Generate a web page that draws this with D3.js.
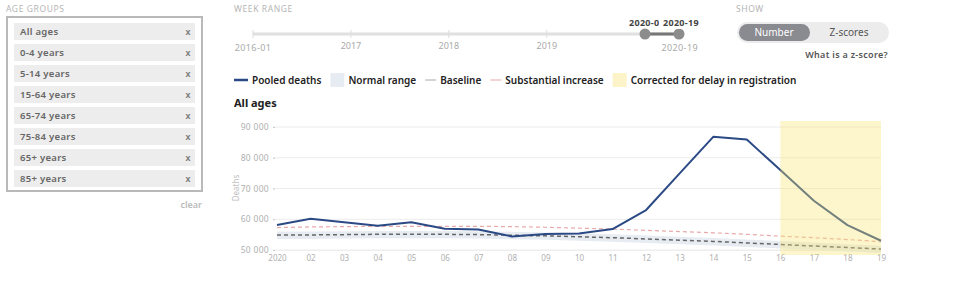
<!DOCTYPE html>
<html>
<head>
<meta charset="utf-8">
<script src="https://cdn.jsdelivr.net/npm/d3@7"></script>
<style>
  body { margin: 0; background: #fff; }
  svg { display: block; font-family: "Noto Sans", sans-serif; }
</style>
</head>
<body>
<svg id="chart" width="960" height="288"></svg>
<script>
'use strict';

// data
var ageGroups = ['All ages', '0-4 years', '5-14 years', '15-64 years', '65-74 years', '75-84 years', '65+ years', '85+ years'];
var weeks = [1, 2, 3, 4, 5, 6, 7, 8, 9, 10, 11, 12, 13, 14, 15, 16, 17, 18, 19];
var pooledDeaths = [58100, 60150, 59000, 57900, 59000, 56900, 56700, 54400, 55200, 55400, 56800, 63000, 74900, 86800, 85900, 76000, 66000, 58100, 53000];
var baseline = [54900, 54900, 55000, 55100, 55100, 55100, 55000, 54800, 54600, 54300, 54000, 53600, 53200, 52800, 52300, 51800, 51300, 50800, 50300];
var substantial = [57300, 57500, 57600, 57700, 57700, 57700, 57700, 57600, 57400, 57100, 56800, 56400, 56000, 55600, 55100, 54500, 54000, 53400, 52700];
var normalLow = [53600, 53600, 53700, 53800, 53800, 53800, 53700, 53500, 53300, 53000, 52700, 52300, 51900, 51500, 51000, 50500, 50000, 49500, 49000];
var normalHigh = [56000, 56000, 56100, 56200, 56200, 56200, 56100, 55900, 55700, 55400, 55100, 54700, 54300, 53900, 53400, 52900, 52400, 51900, 51400];
var correctedFrom = 16, correctedTo = 19;
var yTicks = [50000, 60000, 70000, 80000, 90000];
var sliderYears = ['2017', '2018', '2019'];
var legendItems = [
    {label: 'Pooled deaths', type: 'line', color: '#2b4a85', w: 2.5, len: 14},
    {label: 'Normal range', type: 'box', color: '#e7ecf2'},
    {label: 'Baseline', type: 'line', color: '#aaa', w: 1, len: 11},
    {label: 'Substantial increase', type: 'line', color: '#e9a9a9', w: 1, len: 11},
    {label: 'Corrected for delay in registration', type: 'box', color: '#fcf3c8'}
];

var svg = d3.select('#chart');

//* Left panel: age groups
svg.append('text').attr('x', 6).attr('y', 12)
    .attr('font-size', 8.5).attr('fill', '#b5b5b5').attr('letter-spacing', 0.6)
    .text('AGE GROUPS');
svg.append('rect').attr('x', 7).attr('y', 17).attr('width', 195).attr('height', 174)
    .attr('fill', '#fff').attr('stroke', '#b9b9b9').attr('stroke-width', 2);
var ag = svg.append('g').selectAll('g').data(ageGroups).enter().append('g')
    .attr('transform', function(d, i) { return 'translate(14,' + (23 + i * 21) + ')'; });
ag.append('rect').attr('width', 181).attr('height', 17).attr('fill', '#ededed');
ag.append('text').attr('x', 6).attr('y', 12)
    .attr('font-size', 9.5).attr('font-weight', 600).attr('fill', '#666').attr('letter-spacing', 0.3)
    .text(function(d) { return d; });
ag.append('text').attr('x', 174).attr('y', 12).attr('text-anchor', 'middle')
    .attr('font-size', 9).attr('font-weight', 600).attr('fill', '#777')
    .text('x');
svg.append('text').attr('x', 202).attr('y', 208).attr('text-anchor', 'end')
    .attr('font-size', 9).attr('font-weight', 600).attr('fill', '#bbb')
    .text('clear');

//* Week range slider
svg.append('text').attr('x', 234).attr('y', 12)
    .attr('font-size', 8.5).attr('fill', '#b5b5b5').attr('letter-spacing', 0.6)
    .text('WEEK RANGE');
var sx = d3.scaleLinear().domain([0, 4.35]).range([253, 679]);
svg.append('line').attr('x1', 253).attr('x2', 679).attr('y1', 34).attr('y2', 34)
    .attr('stroke', '#e0e0e0').attr('stroke-width', 3);
[0, 1, 2, 3].forEach(function(i) {
    svg.append('line').attr('x1', sx(i)).attr('x2', sx(i)).attr('y1', 30).attr('y2', 38)
        .attr('stroke', '#ddd').attr('stroke-width', 1);
});
svg.append('text').attr('x', 253).attr('y', 51).attr('text-anchor', 'middle')
    .attr('font-size', 9).attr('fill', '#aaa').attr('letter-spacing', 0.4).text('2016-01');
svg.selectAll('text.yr').data(sliderYears).enter().append('text')
    .attr('class', 'yr')
    .attr('x', function(d, i) { return sx(i + 1); }).attr('y', 49).attr('text-anchor', 'middle')
    .attr('font-size', 9).attr('fill', '#aaa').text(function(d) { return d; });
svg.append('text').attr('x', 698).attr('y', 51).attr('text-anchor', 'end')
    .attr('font-size', 9).attr('fill', '#aaa').attr('letter-spacing', 0.4).text('2020-19');
svg.append('line').attr('x1', 645).attr('x2', 679).attr('y1', 34).attr('y2', 34)
    .attr('stroke', '#777').attr('stroke-width', 3);
svg.append('circle').attr('cx', 645).attr('cy', 34).attr('r', 5.5).attr('fill', '#8c8c8c');
svg.append('circle').attr('cx', 679).attr('cy', 34).attr('r', 5.5).attr('fill', '#8c8c8c');
svg.append('text').attr('x', 629).attr('y', 26)
    .attr('font-size', 9).attr('font-weight', 700).attr('fill', '#444').attr('letter-spacing', 0.3)
    .text('2020-01');
svg.append('rect').attr('x', 659).attr('y', 16).attr('width', 42).attr('height', 13).attr('fill', '#fff');
svg.append('text').attr('x', 663).attr('y', 26)
    .attr('font-size', 9).attr('font-weight', 700).attr('fill', '#444').attr('letter-spacing', 0.3)
    .text('2020-19');

//* Show toggle
svg.append('text').attr('x', 736).attr('y', 12)
    .attr('font-size', 8.5).attr('fill', '#b5b5b5').attr('letter-spacing', 0.6)
    .text('SHOW');
svg.append('rect').attr('x', 737).attr('y', 22).attr('width', 152).attr('height', 21).attr('rx', 10.5)
    .attr('fill', '#ececec');
svg.append('rect').attr('x', 739).attr('y', 24).attr('width', 71).attr('height', 17).attr('rx', 8.5)
    .attr('fill', '#8a8a91');
svg.append('text').attr('x', 774).attr('y', 36).attr('text-anchor', 'middle')
    .attr('font-size', 10).attr('fill', '#fff').text('Number');
svg.append('text').attr('x', 849).attr('y', 36).attr('text-anchor', 'middle')
    .attr('font-size', 10).attr('fill', '#555').text('Z-scores');
svg.append('text').attr('x', 888).attr('y', 58).attr('text-anchor', 'end')
    .attr('font-size', 9).attr('font-weight', 600).attr('fill', '#555').attr('letter-spacing', 0.3)
    .text('What is a z-score?');

//* Legend
var lx = 234;
var legend = svg.append('g').attr('font-size', 10).attr('font-weight', 600).attr('fill', '#222');
legendItems.forEach(function(it) {
    var off = 18;
    if (it.type === 'line') {
        legend.append('line').attr('x1', lx).attr('x2', lx + it.len).attr('y1', 80).attr('y2', 80)
            .attr('stroke', it.color).attr('stroke-width', it.w);
        off = it.len + 4;
    } else {
        legend.append('rect').attr('x', lx).attr('y', 73).attr('width', 14).attr('height', 14)
            .attr('fill', it.color);
    }
    var t = legend.append('text').attr('x', lx + off).attr('y', 84).text(it.label);
    lx += off + t.node().getComputedTextLength() + 9;
});

svg.append('text').attr('x', 234).attr('y', 107)
    .attr('font-size', 11).attr('font-weight', 700).attr('fill', '#222')
    .text('All ages');

//* Chart
var x = d3.scaleLinear().domain([1, 19]).range([277, 881]);
var y = d3.scaleLinear().domain([50000, 90000]).range([250, 127]);
var plot = svg.append('g');

plot.append('g').selectAll('line').data(yTicks).enter().append('line')
    .attr('x1', 273).attr('x2', 881)
    .attr('y1', function(d) { return y(d); }).attr('y2', function(d) { return y(d); })
    .attr('stroke', '#ececec').attr('stroke-width', 1);

var yAxis = plot.append('g').attr('transform', 'translate(275,0)')
    .call(d3.axisLeft(y).tickValues(yTicks).tickSize(2)
        .tickFormat(function(d) { return d3.format(',')(d).replace(',', ' '); }));
yAxis.select('.domain').remove();
yAxis.selectAll('line').attr('stroke', '#ccc');
yAxis.selectAll('text').attr('font-size', 8.5).attr('fill', '#b0b0b0').attr('font-family', 'Noto Sans')
    .attr('letter-spacing', 0.3).attr('dx', -1);

svg.append('text').attr('transform', 'translate(239,188) rotate(-90)')
    .attr('text-anchor', 'middle').attr('font-size', 8).attr('fill', '#c0c0c0')
    .text('Deaths');

var xAxis = plot.append('g').attr('transform', 'translate(0,250)')
    .call(d3.axisBottom(x).tickValues(weeks).tickSize(0)
        .tickFormat(function(d) { return d === 1 ? '2020' : d3.format('02')(d); }));
xAxis.select('.domain').attr('stroke', '#eee');
xAxis.selectAll('text').attr('font-size', 8).attr('fill', '#b0b0b0').attr('font-family', 'Noto Sans')
    .attr('dy', '0.95em');

var band = d3.area()
    .x(function(d, i) { return x(weeks[i]); })
    .y0(function(d, i) { return y(normalLow[i]); })
    .y1(function(d, i) { return y(normalHigh[i]); });
plot.append('path').datum(weeks).attr('d', band).attr('fill', '#e7ecf2');

var line = function(values) {
    return d3.line()
        .x(function(d, i) { return x(weeks[i]); })
        .y(function(d) { return y(d); })(values);
};
plot.append('path').attr('d', line(substantial)).attr('fill', 'none')
    .attr('stroke', '#e9a9a9').attr('stroke-width', 1.2).attr('stroke-dasharray', '4,3');
plot.append('path').attr('d', line(baseline)).attr('fill', 'none')
    .attr('stroke', '#666').attr('stroke-width', 1.5).attr('stroke-dasharray', '4,3');
plot.append('path').attr('d', line(pooledDeaths)).attr('fill', 'none')
    .attr('stroke', '#2b4a85').attr('stroke-width', 2).attr('stroke-linejoin', 'round');

// corrected period drawn on top, semi-transparent
plot.append('rect').attr('x', x(correctedFrom)).attr('y', 121)
    .attr('width', x(correctedTo) - x(correctedFrom)).attr('height', 134)
    .attr('fill', 'rgb(250,228,110)').attr('fill-opacity', 0.35);
</script>
</body>
</html>
